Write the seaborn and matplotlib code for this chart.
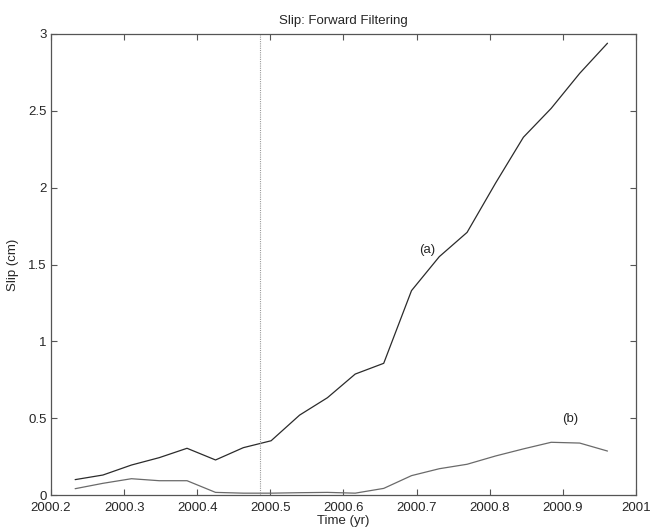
import matplotlib
matplotlib.use("Agg")
import matplotlib.pyplot as plt
import seaborn as sns
import pandas as pd

# Epoch times (decimal year) of the filtered slip estimates
time_yr = [2000.233, 2000.271, 2000.310, 2000.348, 2000.386, 2000.425,
           2000.463, 2000.501, 2000.540, 2000.578, 2000.616, 2000.655,
           2000.693, 2000.731, 2000.769, 2000.808, 2000.846, 2000.884,
           2000.923, 2000.961]

# Slip (cm) for the two patches
slip_a = [0.10, 0.13, 0.195, 0.243, 0.304, 0.228, 0.308, 0.353, 0.52, 0.633,
          0.787, 0.857, 1.33, 1.551, 1.709, 2.03, 2.328, 2.516, 2.744, 2.94]
slip_b = [0.041, 0.076, 0.106, 0.093, 0.093, 0.017, 0.012, 0.012, 0.015, 0.017,
          0.012, 0.043, 0.126, 0.171, 0.20, 0.254, 0.30, 0.343, 0.338, 0.286]

marker_time = 2000.486

xticks = [2000.2, 2000.3, 2000.4, 2000.5, 2000.6, 2000.7, 2000.8, 2000.9, 2001.0]
xtick_labels = ["2000.2", "2000.3", "2000.4", "2000.5", "2000.6", "2000.7",
                "2000.8", "2000.9", "2001"]
yticks = [0, 0.5, 1, 1.5, 2, 2.5, 3]
ytick_labels = ["0", "0.5", "1", "1.5", "2", "2.5", "3"]

sns.set_style("ticks")
plt.rcParams["font.family"] = ["Liberation Sans", "DejaVu Sans"]
plt.rcParams["font.size"] = 9.5

df = pd.DataFrame({
    "time": time_yr * 2,
    "slip": slip_a + slip_b,
    "series": ["a"] * len(time_yr) + ["b"] * len(time_yr),
})

fig = plt.figure(figsize=(6.52, 5.29), dpi=100)
ax = fig.add_axes([51 / 652, 34 / 529, 585 / 652, 461 / 529])

sns.lineplot(data=df, x="time", y="slip", hue="series",
             palette={"a": "#2b2b2b", "b": "#6a6a6a"},
             linewidth=0.9, legend=False, ax=ax)

ax.axvline(marker_time, color="#9a9a9a", linestyle=(0, (1, 1)), linewidth=0.8)

ax.text(2000.714, 1.594, "(a)", ha="center", va="center", fontsize=9.5)
ax.text(2000.910, 0.493, "(b)", ha="center", va="center", fontsize=9.5)

ax.set_xlim(2000.2, 2001.0)
ax.set_ylim(0, 3)
ax.set_xticks(xticks)
ax.set_xticklabels(xtick_labels)
ax.set_yticks(yticks)
ax.set_yticklabels(ytick_labels)

ax.tick_params(direction="in", length=4, width=0.8, color="#555555",
               top=True, right=True, labelsize=9.5)
ax.tick_params(axis="x", pad=5)
ax.tick_params(axis="y", pad=3)
for side in ["left", "right", "top", "bottom"]:
    ax.spines[side].set_visible(True)
    ax.spines[side].set_color("#555555")
    ax.spines[side].set_linewidth(0.9)

ax.set_xlabel("Time (yr)", fontsize=9.5, labelpad=1)
ax.set_ylabel("Slip (cm)", fontsize=9.5, labelpad=7)
ax.set_title("Slip: Forward Filtering", fontsize=9.5, pad=7)

fig.savefig("out.png", dpi=100, facecolor="white")
